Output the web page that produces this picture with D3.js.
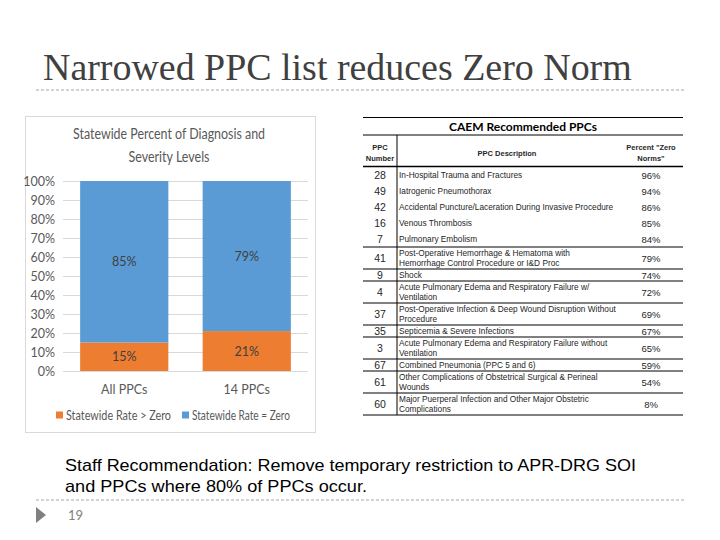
<!DOCTYPE html>
<html>
<head>
<meta charset="utf-8">
<script src="https://cdn.jsdelivr.net/npm/d3@7"></script>
<style>
  body { margin: 0; background: #fff; }
  svg { display: block; }
</style>
</head>
<body>
<svg id="slide" width="720" height="540"></svg>
<script>
// chart data
var categories = ["All PPCs", "14 PPCs"];
var rateAboveZero = [15, 21];
var rateZero = [85, 79];
var seriesNames = ["Statewide Rate > Zero", "Statewide Rate = Zero"];
var seriesColors = ["#ED7D31", "#5B9BD5"];
var yTickValues = [0, 10, 20, 30, 40, 50, 60, 70, 80, 90, 100];

// table data
var ppcNumbers = ["28", "49", "42", "16", "7", "41", "9", "4", "37", "35", "3", "67", "61", "60"];
var ppcDescriptions = [
    ["In-Hospital Trauma and Fractures"],
    ["Iatrogenic Pneumothorax"],
    ["Accidental Puncture/Laceration During Invasive Procedure"],
    ["Venous Thrombosis"],
    ["Pulmonary Embolism"],
    ["Post-Operative Hemorrhage & Hematoma with", "Hemorrhage Control Procedure or I&D Proc"],
    ["Shock"],
    ["Acute Pulmonary Edema and Respiratory Failure w/", "Ventilation"],
    ["Post-Operative Infection & Deep Wound Disruption Without", "Procedure"],
    ["Septicemia & Severe Infections"],
    ["Acute Pulmonary Edema and Respiratory Failure without", "Ventilation"],
    ["Combined Pneumonia (PPC 5 and 6)"],
    ["Other Complications of Obstetrical Surgical & Perineal", "Wounds"],
    ["Major Puerperal Infection and Other Major Obstetric", "Complications"]
];
var zeroNormPercents = ["96%", "94%", "86%", "85%", "84%", "79%", "74%", "72%", "69%", "67%", "65%", "59%", "54%", "8%"];
// first rows share one block without separators
var groupedRows = 5;

var svg = d3.select("#slide");

/***
 * Shrink or grow a text element's font so it spans the given width
 */
function fitText(sel, width) {
    var size = parseFloat(sel.attr("font-size"));
    var len = sel.node().getComputedTextLength();
    sel.attr("font-size", (size * width / len).toFixed(2));
    return parseFloat(sel.attr("font-size"));
}

/***
 * Squeeze glyphs horizontally (narrow Calibri look) without changing height
 */
function squeeze(sel, width) {
    sel.attr("textLength", width).attr("lengthAdjust", "spacingAndGlyphs");
}

// ---- slide frame ----
var titleText = svg.append("text")
    .attr("x", 43).attr("y", 80)
    .attr("font-family", "Liberation Serif, Times New Roman, serif")
    .attr("font-size", 32)
    .attr("fill", "#404040")
    .text("Narrowed PPC list reduces Zero Norm");
fitText(titleText, 589);

[90, 500].forEach(function (y) {
    svg.append("line")
        .attr("x1", 36).attr("x2", 686)
        .attr("y1", y).attr("y2", y)
        .attr("stroke", "#a6a6a6")
        .attr("stroke-width", 1)
        .attr("stroke-dasharray", "3,2");
});

var noteLines = ["Staff Recommendation: Remove temporary restriction to APR-DRG SOI",
    "and PPCs where 80% of PPCs occur."];
var noteWidths = [571, 302];
noteLines.forEach(function (t, i) {
    var el = svg.append("text")
        .attr("x", 65).attr("y", 471 + i * 21)
        .attr("font-family", "Liberation Sans, Arial, sans-serif")
        .attr("font-size", 17)
        .attr("fill", "#000")
        .text(t);
    squeeze(el, noteWidths[i]);
});

svg.append("path")
    .attr("d", "M36,507 L46,515 L36,523 Z")
    .attr("fill", "#808080");
svg.append("text")
    .attr("x", 68).attr("y", 520)
    .attr("font-family", "Lato, sans-serif")
    .attr("font-size", 13)
    .attr("fill", "#808080")
    .text("19");

// ---- stacked bar chart ----
var chart = svg.append("g");
chart.append("rect")
    .attr("x", 25.5).attr("y", 116.5)
    .attr("width", 290).attr("height", 316)
    .attr("fill", "#fff")
    .attr("stroke", "#d9d9d9");

var chartFont = "Lato, Open Sans, sans-serif";
var t1 = chart.append("text")
    .attr("x", 169).attr("y", 139)
    .attr("text-anchor", "middle")
    .attr("font-family", chartFont)
    .attr("font-size", 15.5)
    .attr("fill", "#595959")
    .text("Statewide Percent of Diagnosis and");
squeeze(t1, 192);
var t2 = chart.append("text")
    .attr("x", 169).attr("y", 162)
    .attr("text-anchor", "middle")
    .attr("font-family", chartFont)
    .attr("font-size", 15.5)
    .attr("fill", "#595959")
    .text("Severity Levels");
squeeze(t2, 81);

var x = d3.scaleBand()
    .domain(categories)
    .range([63, 308])
    .paddingInner(0.28)
    .paddingOuter(0.14);

var y = d3.scaleLinear()
    .domain([0, 100])
    .range([371, 181]);

// gridlines
chart.append("g")
    .selectAll("line")
    .data(yTickValues)
    .enter()
    .append("line")
    .attr("x1", 63).attr("x2", 308)
    .attr("y1", function (d) { return y(d) + 0.5; })
    .attr("y2", function (d) { return y(d) + 0.5; })
    .attr("stroke", "#d9d9d9");

// y axis labels
var yAxis = chart.append("g")
    .attr("transform", "translate(63,0)")
    .call(d3.axisLeft(y).tickValues(yTickValues).tickSize(0).tickPadding(8)
        .tickFormat(function (d) { return d + "%"; }));
yAxis.select(".domain").remove();
yAxis.selectAll("text")
    .attr("font-family", chartFont)
    .attr("font-size", 12.5)
    .attr("fill", "#595959");

var rows = categories.map(function (c, i) {
    return {cat: c, above: rateAboveZero[i], zero: rateZero[i]};
});
var stacked = d3.stack().keys(["above", "zero"])(rows);

var layers = chart.selectAll("g.layer")
    .data(stacked)
    .enter()
    .append("g")
    .attr("class", "layer")
    .attr("fill", function (d, i) { return seriesColors[i]; });

layers.selectAll("rect")
    .data(function (d) { return d; })
    .enter()
    .append("rect")
    .attr("x", function (d) { return x(d.data.cat); })
    .attr("width", x.bandwidth())
    .attr("y", function (d) { return y(d[1]); })
    .attr("height", function (d) { return y(d[0]) - y(d[1]); });

layers.selectAll("text")
    .data(function (d) { return d; })
    .enter()
    .append("text")
    .attr("x", function (d) { return x(d.data.cat) + x.bandwidth() / 2; })
    .attr("y", function (d) { return (y(d[0]) + y(d[1])) / 2 + 4.5; })
    .attr("text-anchor", "middle")
    .attr("font-family", chartFont)
    .attr("font-size", 12.5)
    .attr("fill", "#404040")
    .text(function (d) { return (d[1] - d[0]) + "%"; });

// x axis labels
var xAxis = chart.append("g")
    .attr("transform", "translate(0,371)")
    .call(d3.axisBottom(x).tickSize(0).tickPadding(14));
xAxis.select(".domain").remove();
xAxis.selectAll("text")
    .attr("font-family", chartFont)
    .attr("font-size", 12.5)
    .attr("fill", "#595959");

// legend
var legendX = [56, 182];
var legendWidths = [105, 98];
seriesNames.forEach(function (name, i) {
    var lg = chart.append("g").attr("transform", "translate(" + legendX[i] + ",415)");
    lg.append("rect")
        .attr("x", 0).attr("y", -3.5)
        .attr("width", 7).attr("height", 7)
        .attr("fill", seriesColors[i]);
    var lt = lg.append("text")
        .attr("x", 10).attr("y", 4.5)
        .attr("font-family", chartFont)
        .attr("font-size", 12.5)
        .attr("fill", "#595959")
        .text(name);
    squeeze(lt, legendWidths[i]);
});

// ---- CAEM table ----
var table = svg.append("g");
var tLeft = 363, tRight = 683, tDivider = 397;
var tableFont = "Liberation Sans, Arial, sans-serif";
var ink = "#262626";

function hLine(yPos, w) {
    table.append("line")
        .attr("x1", tLeft).attr("x2", tRight)
        .attr("y1", yPos).attr("y2", yPos)
        .attr("stroke", "#000")
        .attr("stroke-width", w || 1);
}

hLine(117.5);
table.append("text")
    .attr("x", 523).attr("y", 131)
    .attr("text-anchor", "middle")
    .attr("font-family", "Lato, sans-serif")
    .attr("font-weight", "bold")
    .attr("font-size", 12)
    .attr("fill", "#000")
    .text("CAEM Recommended PPCs");
hLine(135);

var headerCells = [
    {x: 380, lines: ["PPC", "Number"]},
    {x: 507, lines: ["PPC Description"]},
    {x: 651, lines: ["Percent \"Zero", "Norms\""]}
];
headerCells.forEach(function (h) {
    var top = h.lines.length == 1 ? 156 : 150;
    h.lines.forEach(function (l, i) {
        table.append("text")
            .attr("x", h.x).attr("y", top + i * 11)
            .attr("text-anchor", "middle")
            .attr("font-family", tableFont)
            .attr("font-weight", "bold")
            .attr("font-size", 7.5)
            .attr("fill", ink)
            .text(l);
    });
});
hLine(166.5, 1.5);

// body rows: grouped rows are 16px, the others 12px plus 10px per extra line
var rowY = 167;
ppcNumbers.forEach(function (num, i) {
    var lines = ppcDescriptions[i];
    var h = i < groupedRows ? 16 : 12 + 10 * (lines.length - 1);
    var mid = rowY + h / 2;

    table.append("text")
        .attr("x", 380).attr("y", mid + 4)
        .attr("text-anchor", "middle")
        .attr("font-family", tableFont)
        .attr("font-size", 10.5)
        .attr("fill", ink)
        .text(num);

    lines.forEach(function (l, k) {
        var dt = table.append("text")
            .attr("x", 399)
            .attr("y", mid + 3.2 + (k - (lines.length - 1) / 2) * 10)
            .attr("font-family", tableFont)
            .attr("font-size", 8.8)
            .attr("fill", ink)
            .text(l);
        squeeze(dt, dt.node().getComputedTextLength() * 0.94);
    });

    table.append("text")
        .attr("x", 651).attr("y", mid + 3.5)
        .attr("text-anchor", "middle")
        .attr("font-family", tableFont)
        .attr("font-size", 9.5)
        .attr("fill", ink)
        .text(zeroNormPercents[i]);

    rowY += h;
    if (i >= groupedRows - 1) hLine(rowY);
});

table.append("line")
    .attr("x1", tDivider).attr("x2", tDivider)
    .attr("y1", 135).attr("y2", rowY)
    .attr("stroke", "#000");
</script>
</body>
</html>
